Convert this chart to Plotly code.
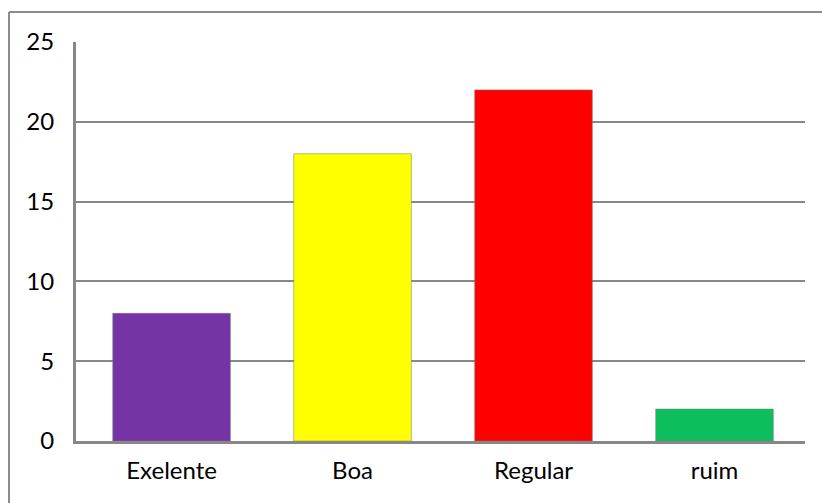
import plotly.graph_objects as go

categories = ["Exelente", "Boa", "Regular", "ruim"]
values = [8, 18, 22, 2]
colors = ["#7434A6", "#FFFF00", "#FF0000", "#0DBF5C"]
y_ticks = [0, 5, 10, 15, 20, 25]

W, H = 822, 503
L, R, T, B = 76, 17, 42, 62
pw, ph = W - L - R, H - T - B

def px(x):
    return (x - L) / pw

def py(y):
    return (H - B - y) / ph

fig = go.Figure(go.Bar(
    x=categories, y=values,
    marker=dict(color=colors, line=dict(color="rgba(120,120,120,0.5)", width=1)),
))

fig.update_layout(
    width=W, height=H,
    margin=dict(l=L, r=R, t=T, b=B, pad=0),
    paper_bgcolor="white", plot_bgcolor="white",
    bargap=0.35,
    showlegend=False,
    font=dict(family="Lato, Carlito, Calibri, sans-serif", size=24, color="black"),
    shapes=[
        dict(type="line", xref="paper", yref="paper",
             x0=px(9), x1=px(W + 5), y0=py(12), y1=py(12),
             line=dict(color="#8C8C8C", width=2)),
        dict(type="line", xref="paper", yref="paper",
             x0=px(9), x1=px(9), y0=py(12), y1=py(H + 5),
             line=dict(color="#8C8C8C", width=2)),
    ],
)
fig.update_xaxes(
    range=[-0.528, 3.5],
    showgrid=False, showline=True, linecolor="#878787", linewidth=3,
    ticks="", ticklabelstandoff=6,
)
fig.update_yaxes(
    range=[0, 25], tickvals=y_ticks, showgrid=True, gridcolor="#878787", gridwidth=2,
    showline=True, linecolor="#878787", linewidth=3, zeroline=False,
    ticks="", ticklabelstandoff=14,
)

fig.write_html("out.html")
